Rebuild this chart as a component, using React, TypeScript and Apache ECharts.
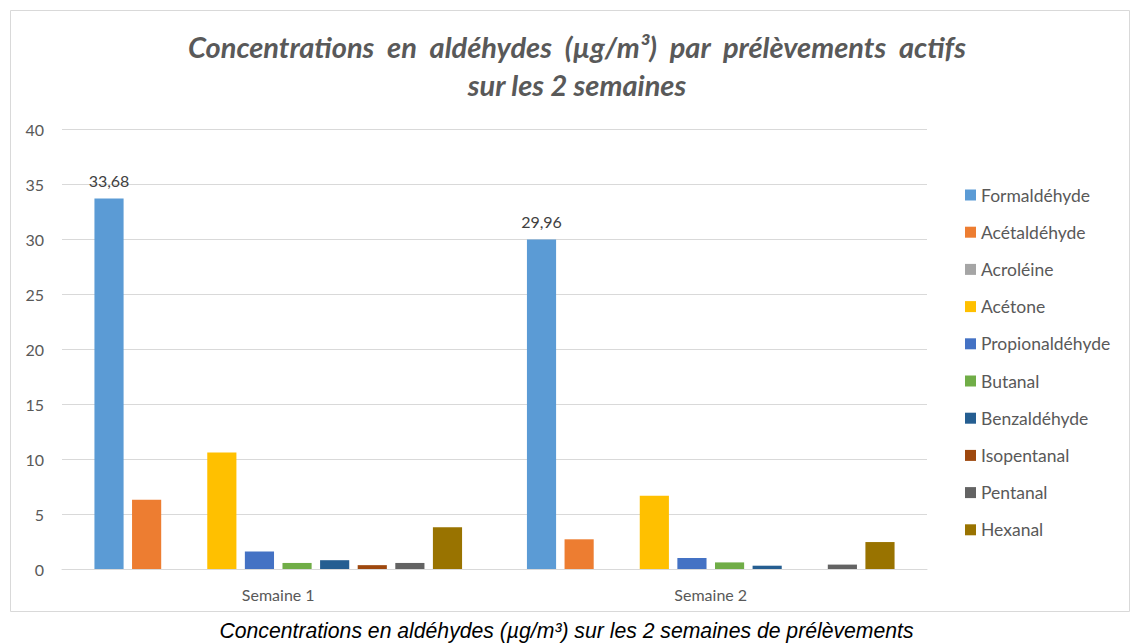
import React, { useEffect, useRef } from "react";
import * as echarts from "echarts";

const categories = ["Semaine 1", "Semaine 2"];
const seriesNames = [
  "Formaldéhyde",
  "Acétaldéhyde",
  "Acroléine",
  "Acétone",
  "Propionaldéhyde",
  "Butanal",
  "Benzaldéhyde",
  "Isopentanal",
  "Pentanal",
  "Hexanal",
];
const formaldehyde = [33.68, 29.96];
const acetaldehyde = [6.3, 2.7];
const acroleine = [0, 0];
const acetone = [10.6, 6.65];
const propionaldehyde = [1.6, 1.0];
const butanal = [0.55, 0.6];
const benzaldehyde = [0.8, 0.3];
const isopentanal = [0.35, 0];
const pentanal = [0.55, 0.4];
const hexanal = [3.8, 2.45];
const seriesValues = [
  formaldehyde,
  acetaldehyde,
  acroleine,
  acetone,
  propionaldehyde,
  butanal,
  benzaldehyde,
  isopentanal,
  pentanal,
  hexanal,
];
const colors = [
  "#5B9BD5",
  "#ED7D31",
  "#A5A5A5",
  "#FFC000",
  "#4472C4",
  "#70AD47",
  "#255E91",
  "#9E480E",
  "#636363",
  "#997300",
];
const labeledSeries = ["Formaldéhyde"];

export default function App() {
  const ref = useRef<HTMLDivElement>(null);
  useEffect(() => {
    if (!ref.current) return;
    const chart = echarts.init(ref.current, undefined, { renderer: "svg" });
    const font = "Lato, 'Open Sans', sans-serif";
    chart.setOption({
      animation: false,
      color: colors,
      textStyle: { fontFamily: font },
      title: {
        text: "Concentrations  en  aldéhydes  (µg/m³)  par  prélèvements  actifs\nsur les 2 semaines",
        left: 572,
        textAlign: "center",
        top: 22,
        textStyle: {
          fontFamily: font,
          fontStyle: "italic",
          fontWeight: "bold",
          fontSize: 29,
          lineHeight: 38,
          color: "#595959",
        },
      },
      legend: {
        orient: "vertical",
        left: 960,
        top: 181,
        itemWidth: 11,
        itemHeight: 11,
        itemGap: 19.2,
        icon: "rect",
        data: seriesNames,
        textStyle: { fontSize: 17.5, color: "#595959", fontFamily: font },
      },
      grid: { left: 62, right: 206, top: 129, bottom: 75 },
      xAxis: {
        type: "category",
        data: categories,
        axisLine: { lineStyle: { color: "#D9D9D9", width: 1 } },
        axisTick: { show: false },
        axisLabel: { fontSize: 16, color: "#595959", margin: 17 },
      },
      yAxis: {
        type: "value",
        min: 0,
        max: 40,
        interval: 5,
        axisLine: { show: false },
        axisTick: { show: false },
        splitLine: { lineStyle: { color: "#D9D9D9", width: 1 } },
        axisLabel: { fontSize: 16, color: "#595959", margin: 18 },
      },
      graphic: [
        {
          type: "rect",
          shape: { x: 10.5, y: 10.5, width: 1119, height: 601 },
          style: { fill: "none", stroke: "#D9D9D9", lineWidth: 1 },
          silent: true,
        },
        {
          type: "text",
          left: "center",
          top: 620,
          style: {
            text: "Concentrations en aldéhydes (µg/m³) sur les 2 semaines de prélèvements",
            font: "italic 21.2px 'Liberation Sans', Arial, sans-serif",
            fill: "#000000",
          },
        },
      ],
      series: seriesNames.map((name, i) => ({
        name,
        type: "bar",
        data: seriesValues[i],
        barGap: "29%",
        barCategoryGap: "15%",
        label: labeledSeries.includes(name)
          ? {
              show: true,
              position: "top",
              distance: 10,
              fontSize: 16,
              color: "#404040",
              fontFamily: font,
              formatter: (p: any) => String(p.value).replace(".", ","),
            }
          : { show: false },
      })),
    });
    return () => chart.dispose();
  }, []);
  return (
    <div
      ref={ref}
      style={{ position: "fixed", left: 0, top: 0, width: 1133, height: 644, background: "#fff" }}
    />
  );
}
